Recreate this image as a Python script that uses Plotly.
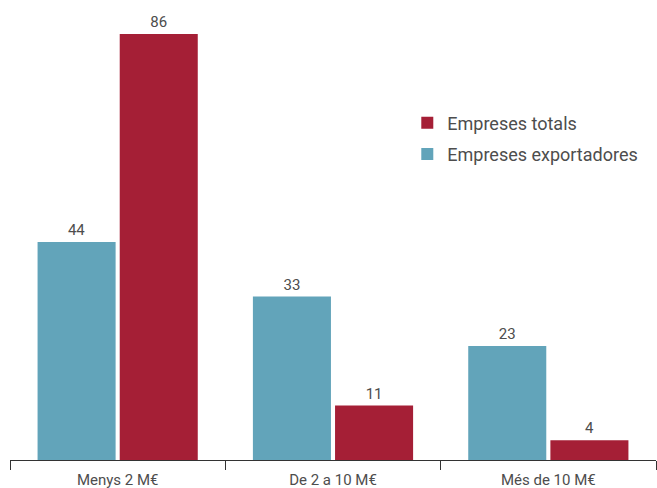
import plotly.graph_objects as go

categories = ["Menys 2 M€", "De 2 a 10 M€", "Més de 10 M€"]
exportadores = [44, 33, 23]
totals = [86, 11, 4]

teal = "#62A4BA"
red = "#A51F36"
font = "Roboto"
txt = "#4d4d4d"

fig = go.Figure()
fig.add_trace(go.Bar(
    x=categories, y=exportadores, name="Empreses exportadores",
    legendgroup="b", legendrank=2,
    marker=dict(color=teal, line=dict(width=0)),
    text=[str(v) for v in exportadores], textposition="outside",
    textfont=dict(family=font, size=15, color=txt), cliponaxis=False,
))
fig.add_trace(go.Bar(
    x=categories, y=totals, name="Empreses totals",
    legendgroup="a", legendrank=1,
    marker=dict(color=red, line=dict(width=0)),
    text=[str(v) for v in totals], textposition="outside",
    textfont=dict(family=font, size=15, color=txt), cliponaxis=False,
))

fig.update_layout(
    width=657, height=488,
    margin=dict(l=10, r=1, t=10, b=28),
    paper_bgcolor="white", plot_bgcolor="white",
    barmode="group", bargap=0.237, bargroupgap=0.05,
    font=dict(family=font, size=15, color=txt),
    showlegend=True,
    legend=dict(
        x=0.615, y=0.79, xanchor="left", yanchor="top",
        traceorder="grouped", font=dict(family=font, size=18, color=txt),
        bgcolor="rgba(0,0,0,0)", itemwidth=30, tracegroupgap=5,
    ),
    xaxis=dict(
        showline=True, linecolor="#333", linewidth=1, automargin=False,
        ticks="outside", tickson="boundaries", ticklen=9, tickcolor="#333",
        tickfont=dict(family=font, size=15, color=txt), ticklabelstandoff=6,
        showgrid=False, zeroline=False,
    ),
    yaxis=dict(
        range=[0, 90.85], visible=False, showgrid=False, zeroline=False,
        automargin=False,
    ),
)

fig.write_html("out.html", config={"displayModeBar": False},
               post_script="document.body.style.margin='0';")
